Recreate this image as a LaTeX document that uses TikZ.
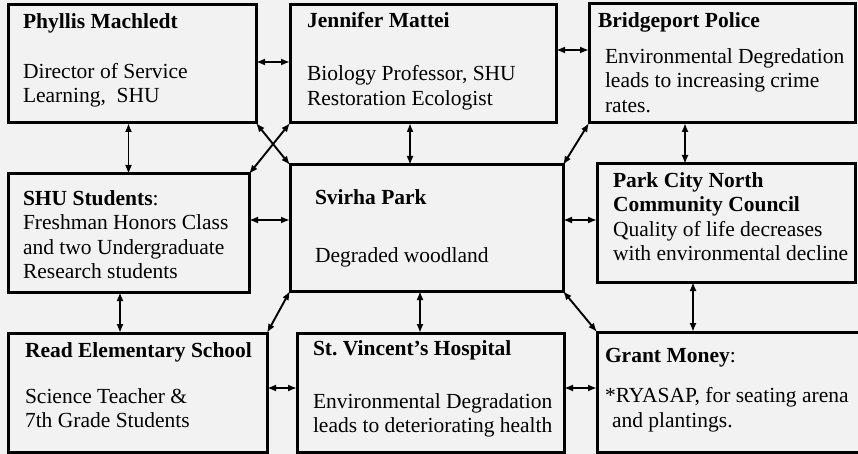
\documentclass[tikz,border=0pt]{standalone}
\usepackage{fontspec}
\setmainfont{Liberation Serif}
\usetikzlibrary{arrows.meta}
\begin{document}
\begin{tikzpicture}[x=1pt, y=-1pt,
  box/.style={draw, line width=3pt, anchor=north west, inner sep=0pt, outer sep=0pt},
  lbl/.style={anchor=north west, inner sep=0pt, outer sep=0pt, align=left, font=\fontsize{21.5}{24.5}\selectfont},
  link/.style={{Latex[length=9pt,width=7pt]}-{Latex[length=9pt,width=7pt]}, line width=1.9pt}]
\fill[black!5] (0,0) rectangle (858,454);
\useasboundingbox (0,0) rectangle (858,454);
\node[box, minimum width=248pt, minimum height=118pt, label={[lbl, xshift=15pt, yshift=-8.5pt]north west:{\textbf{Phyllis Machledt}\\[25.5pt]Director of Service\\Learning,\ \ SHU}}] (phyllis) at (8,5) {};
\node[box, minimum width=266pt, minimum height=118pt, label={[lbl, xshift=17pt, yshift=-7.5pt]north west:{\textbf{Jennifer Mattei}\\[28.5pt]Biology Professor, SHU\\Restoration Ecologist}}] (jennifer) at (290,5) {};
\node[box, minimum width=266pt, minimum height=119pt, label={[lbl, xshift=9pt, yshift=-8.5pt]north west:{\textbf{Bridgeport Police}\\[11.5pt]\hspace*{7pt}Environmental Degredation\\\hspace*{7pt}leads to increasing crime\\\hspace*{7pt}rates.}}] (police) at (589,4) {};
\node[box, minimum width=241pt, minimum height=118pt, label={[lbl, xshift=15pt, yshift=-16.5pt]north west:{\textbf{SHU Students}:\\Freshman Honors Class\\and two Undergraduate\\Research students}}] (students) at (8,174) {};
\node[box, minimum width=273pt, minimum height=126pt, label={[lbl, xshift=25pt, yshift=-24.5pt]north west:{\textbf{Svirha Park}\\[33.5pt]Degraded woodland}}] (park) at (290,165) {};
\node[box, minimum width=258pt, minimum height=118pt, label={[lbl, xshift=16pt, yshift=-8.5pt]north west:{\textbf{Park City North}\\\textbf{Community Council}\\Quality of life decreases\\with environmental decline}}] (council) at (597,164) {};
\node[box, minimum width=259pt, minimum height=119pt, label={[lbl, xshift=17pt, yshift=-9.5pt]north west:{\textbf{Read Elementary School}\\[21.5pt]Science Teacher \&\\7th Grade Students}}] (school) at (8,333) {};
\node[box, minimum width=267pt, minimum height=119pt, label={[lbl, xshift=16pt, yshift=-7.5pt]north west:{\textbf{St.\ Vincent’s Hospital}\\[28.5pt]Environmental Degradation\\leads to deteriorating health}}] (hospital) at (297,333) {};
\node[box, minimum width=280pt, minimum height=120pt, label={[lbl, xshift=8pt, yshift=-16.5pt]north west:{\textbf{Grant Money}:\\[15.5pt]*RYASAP, for seating arena\\\hspace*{7pt}and plantings.}}] (grant) at (597,332) {};
\draw[link] (phyllis.east |- 0,62) -- (jennifer.west |- 0,62);
\draw[link] (jennifer.east |- 0,50) -- (police.west |- 0,50);
\draw[link] (phyllis.south -| students.north) -- (students.north);
\draw[link] (phyllis.south east) -- (park.north west);
\draw[link] (jennifer.south west) -- (students.north east);
\draw[link] (jennifer.south -| 410,0) -- (park.north -| 410,0);
\draw[link] (police.south west) -- (park.north east);
\draw[link] (police.south -| 685,0) -- (council.north -| 685,0);
\draw[link] (students.east |- 0,220) -- (park.west |- 0,220);
\draw[link] (park.east |- 0,220) -- (council.west |- 0,220);
\draw[link] (students.south -| 120,0) -- (school.north -| 120,0);
\draw[link] (park.south west) -- (school.north east);
\draw[link] (park.south -| 420,0) -- (hospital.north -| 420,0);
\draw[link] (park.south east) -- (grant.north west);
\draw[link] (council.south -| 693,0) -- (grant.north -| 693,0);
\draw[link] (school.east |- 0,388) -- (hospital.west |- 0,388);
\draw[link] (hospital.east |- 0,388) -- (grant.west |- 0,388);
\end{tikzpicture}
\end{document}
